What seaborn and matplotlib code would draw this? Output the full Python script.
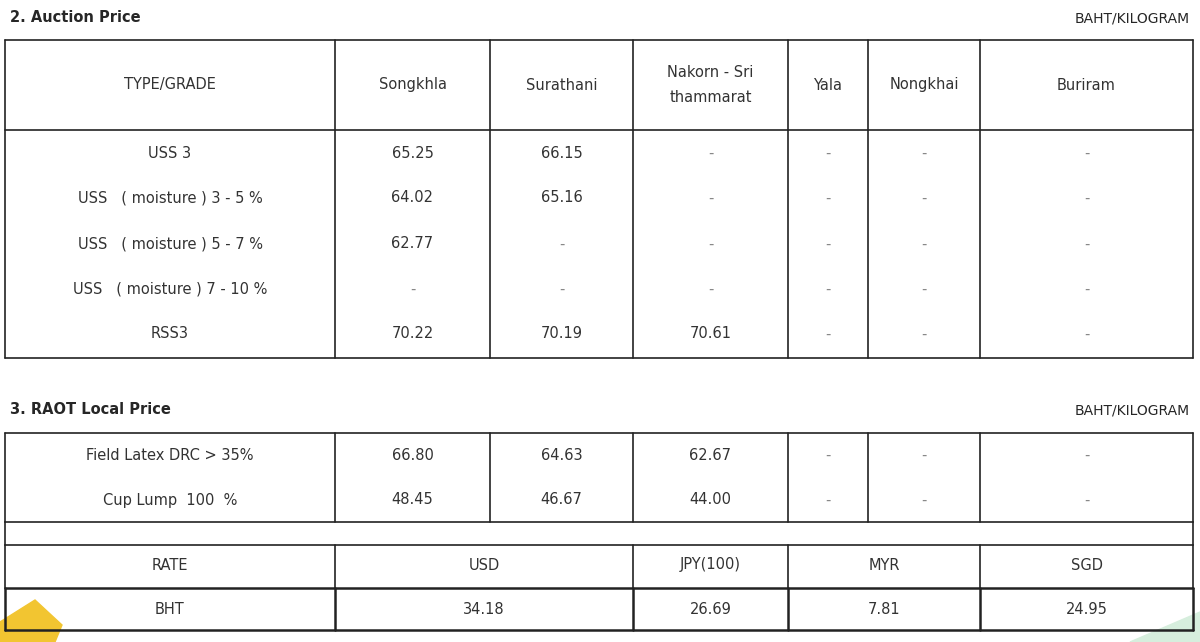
import matplotlib.pyplot as plt
import seaborn as sns
from matplotlib.patches import Polygon

sns.set_theme(style="white")
plt.rcParams['font.family'] = ['DejaVu Sans']

# Data
provinces = ['Songkhla', 'Surathani', 'Nakorn - Sri\nthammarat', 'Yala', 'Nongkhai', 'Buriram']
auction_grades = ['USS 3', 'USS   ( moisture ) 3 - 5 %', 'USS   ( moisture ) 5 - 7 %',
                  'USS   ( moisture ) 7 - 10 %', 'RSS3']
auction_values = [
    ['65.25', '66.15', '-', '-', '-', '-'],
    ['64.02', '65.16', '-', '-', '-', '-'],
    ['62.77', '-', '-', '-', '-', '-'],
    ['-', '-', '-', '-', '-', '-'],
    ['70.22', '70.19', '70.61', '-', '-', '-'],
]
local_grades = ['Field Latex DRC > 35%', 'Cup Lump  100  %']
local_values = [
    ['66.80', '64.63', '62.67', '-', '-', '-'],
    ['48.45', '46.67', '44.00', '-', '-', '-'],
]
currencies = ['USD', 'JPY(100)', 'MYR', 'SGD']
rates = ['34.18', '26.69', '7.81', '24.95']

fig = plt.figure(figsize=(12, 6.42), dpi=100)
ax = fig.add_axes([0, 0, 1, 1])
ax.set_xlim(0, 1200)
ax.set_ylim(642, 0)
ax.axis('off')

fs = 10.5
col_edges = [5, 335, 490, 633, 788, 868, 980, 1193]
centers = [(a + b) / 2 for a, b in zip(col_edges[:-1], col_edges[1:])]
lc = '#222222'

def hline(y, x0=5, x1=1193, lw=1.2):
    ax.plot([x0, x1], [y, y], color=lc, lw=lw)

def vline(x, y0, y1, lw=1.2):
    ax.plot([x, x], [y0, y1], color=lc, lw=lw)

# Titles
ax.text(10, 18, '2. Auction Price', fontsize=10.5, fontweight='bold', va='center')
ax.text(1190, 18, 'BAHT/KILOGRAM', fontsize=10, va='center', ha='right')
ax.text(10, 410, '3. RAOT Local Price', fontsize=10.5, fontweight='bold', va='center')
ax.text(1190, 410, 'BAHT/KILOGRAM', fontsize=10, va='center', ha='right')

# Table 1
hline(40); hline(130); hline(358)
for x in col_edges:
    vline(x, 40, 358)
ax.text(centers[0], 85, 'TYPE/GRADE', fontsize=fs, ha='center', va='center', color='#333')
for c, p in zip(centers[1:], provinces):
    ax.text(c, 85, p, fontsize=fs, ha='center', va='center', color='#333', linespacing=1.9)
ys = [153, 198, 244, 289, 334]
for y, g, row in zip(ys, auction_grades, auction_values):
    ax.text(centers[0], y, g, fontsize=fs, ha='center', va='center', color='#333')
    for c, v in zip(centers[1:], row):
        ax.text(c, y, v, fontsize=fs, ha='center', va='center',
                color='#333' if v != '-' else '#888')

# Table 2
hline(433); hline(522); hline(545)
for x in col_edges:
    vline(x, 433, 522)
vline(5, 522, 545); vline(1193, 522, 545)
for y, g, row in zip([455, 500], local_grades, local_values):
    ax.text(centers[0], y, g, fontsize=fs, ha='center', va='center', color='#333')
    for c, v in zip(centers[1:], row):
        ax.text(c, y, v, fontsize=fs, ha='center', va='center',
                color='#333' if v != '-' else '#888')

# Rate table
rate_edges = [5, 335, 633, 788, 980, 1193]
rate_centers = [(a + b) / 2 for a, b in zip(rate_edges[:-1], rate_edges[1:])]
hline(588, lw=1.8); hline(630, lw=1.8)
for x in rate_edges:
    vline(x, 545, 588)
    vline(x, 588, 630, lw=1.8)
ax.text(rate_centers[0], 565, 'RATE', fontsize=fs, ha='center', va='center', color='#333')
ax.text(rate_centers[0], 610, 'BHT', fontsize=fs, ha='center', va='center', color='#333')
for c, cur, r in zip(rate_centers[1:], currencies, rates):
    ax.text(c, 565, cur, fontsize=fs, ha='center', va='center', color='#333')
    ax.text(c, 610, r, fontsize=fs, ha='center', va='center', color='#333')

# Decorative corners
ax.add_patch(Polygon([[0, 622], [35, 600], [62, 625], [55, 642], [0, 642]],
                     closed=True, color='#f2c531', zorder=0))
ax.add_patch(Polygon([[1130, 642], [1200, 612], [1200, 642]],
                     closed=True, color='#d6eedd', zorder=0))

fig.savefig('out.png', dpi=100)
